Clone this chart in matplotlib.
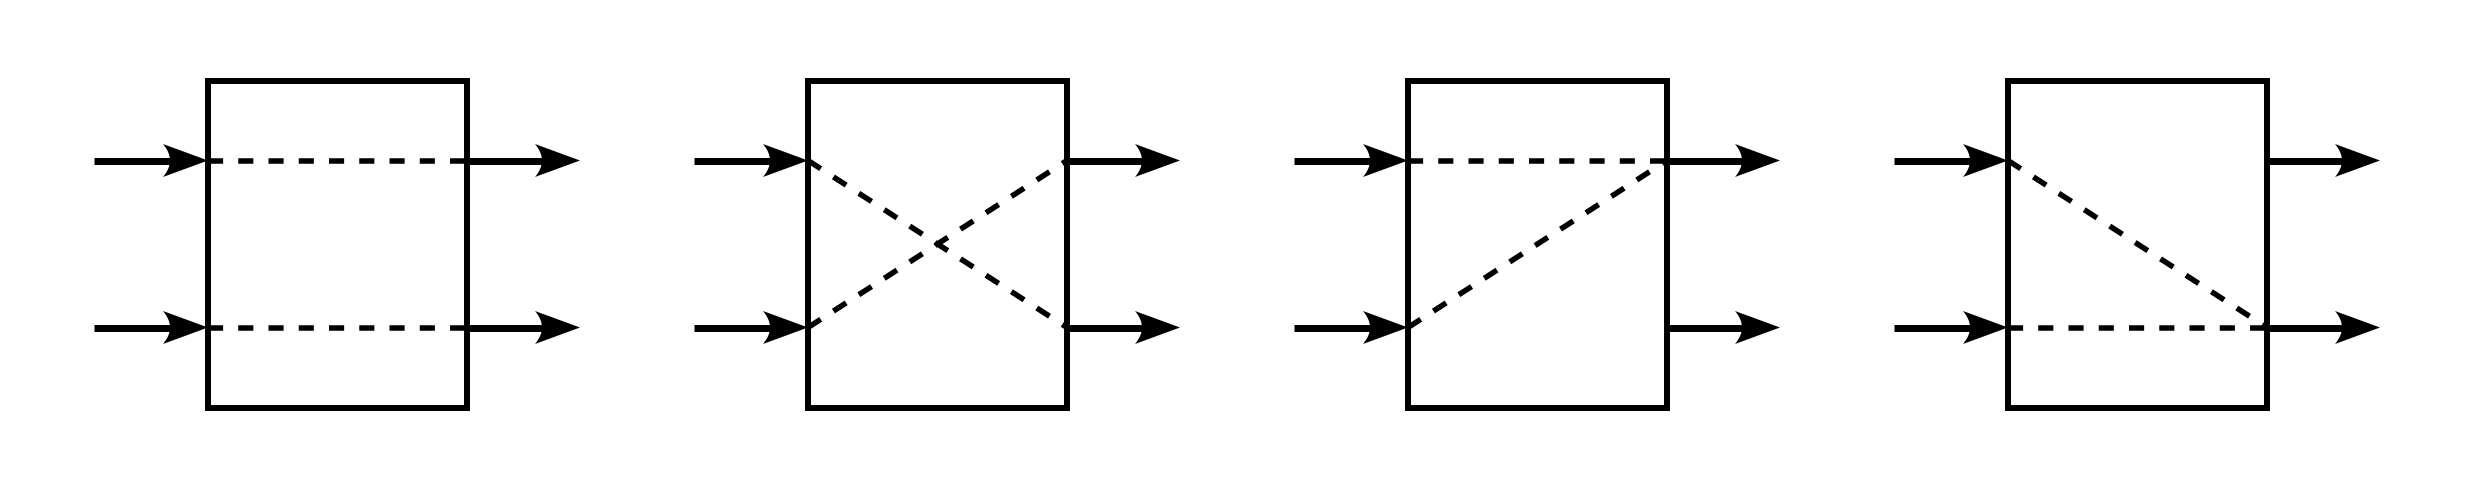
import numpy as np
import matplotlib
matplotlib.use('Agg')
import matplotlib.pyplot as plt
from matplotlib.patches import Rectangle, PathPatch
from matplotlib.path import Path

# routing of each 2x2 switch: (input port, output port), port 0 = top, 1 = bottom
routes = [
    [(0, 0), (1, 1)],   # bar
    [(0, 1), (1, 0)],   # cross
    [(0, 0), (1, 0)],   # both to top
    [(0, 1), (1, 1)],   # both to bottom
]
n_ports = 2

# layout in pixels
W, H = 2479, 498
PANEL_STEP = 600
BOX_L, BOX_R = 208, 467
BOX_T, BOX_B = 81, 408
PORT_Y = [160.5, 327.5]
IN_START = 94
OUT_TIP = 580
HEAD_LEN, HEAD_HW, HEAD_NOTCH = 45, 16.5, 14

px = 72.0 / 100  # points per pixel at dpi 100


def arrow_head(ax, tip_x, y):
    verts = [(tip_x, y), (tip_x - HEAD_LEN, y - HEAD_HW),
             (tip_x - HEAD_LEN + HEAD_NOTCH, y), (tip_x - HEAD_LEN, y + HEAD_HW),
             (tip_x, y)]
    codes = [Path.MOVETO, Path.LINETO, Path.CURVE3, Path.CURVE3, Path.CLOSEPOLY]
    ax.add_patch(PathPatch(Path(verts, codes), facecolor='black', edgecolor='none', zorder=4))


def arrow(ax, x0, x1, y):
    ax.plot([x0, x1 - HEAD_LEN + 8], [y, y], color='black', lw=7 * px,
            solid_capstyle='butt', zorder=3)
    arrow_head(ax, x1, y)


fig = plt.figure(figsize=(W / 100, H / 100), dpi=100)
ax = fig.add_axes([0, 0, 1, 1])
ax.set_xlim(0, W)
ax.set_ylim(H, 0)
ax.axis('off')

for i, conns in enumerate(routes):
    dx = i * PANEL_STEP
    ax.add_patch(Rectangle((BOX_L + dx, BOX_T), BOX_R - BOX_L, BOX_B - BOX_T,
                           fill=False, edgecolor='black', lw=6 * px,
                           joinstyle='miter', zorder=2))
    for p in range(n_ports):
        arrow(ax, IN_START + dx, BOX_L + dx, PORT_Y[p])
        arrow(ax, BOX_R + dx, OUT_TIP + dx, PORT_Y[p])
    for a, b in conns:
        ax.plot([BOX_L + dx, BOX_R + dx], [PORT_Y[a], PORT_Y[b]], color='black',
                lw=5.5 * px, linestyle=(0, (2.75, 2.75)), dash_capstyle='butt', zorder=3)

fig.savefig('out.png', dpi=100, facecolor='white')
